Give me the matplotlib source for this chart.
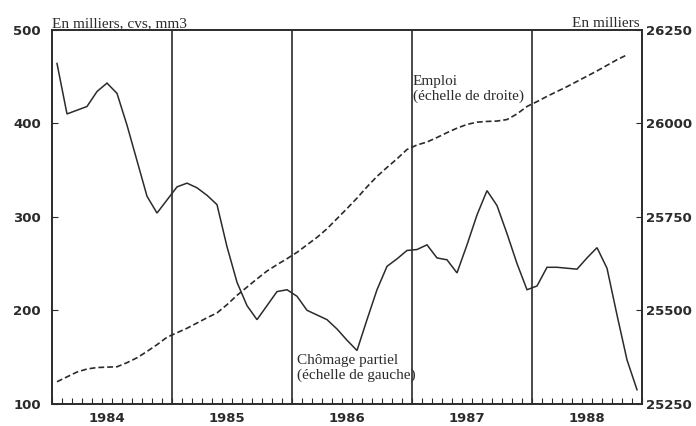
import matplotlib
matplotlib.use("Agg")
import matplotlib.pyplot as plt
import numpy as np

# Chômage partiel (left scale, thousands), monthly Jan 1984 ->
chomage = [464, 410, 414, 418, 434, 443, 432, 398, 360, 322, 304, 318,
           332, 336, 331, 323, 313, 268, 230, 205, 190, 205, 220, 222,
           215, 200, 195, 190, 180, 168, 157, 190, 222, 247, 255, 264,
           265, 270, 256, 254, 240, 270, 302, 328, 312, 282, 250, 222,
           226, 246, 246, 245, 244, 256, 267, 245, 195, 147, 115]

# Emploi (right scale, thousands), monthly Jan 1984 ->
emploi = [25309, 25322, 25335, 25343, 25347, 25348, 25349, 25360, 25373, 25390, 25408, 25428,
          25440, 25452, 25466, 25480, 25493, 25515, 25540, 25562, 25584, 25605, 25622, 25638,
          25655, 25675, 25695, 25718, 25745, 25772, 25800, 25830, 25858, 25882, 25905, 25930,
          25942, 25950, 25962, 25975, 25987, 25997, 26003, 26005, 26006, 26010, 26025, 26045,
          26058, 26072, 26085, 26098, 26112, 26126, 26140, 26155, 26170, 26183]

years = ["1984", "1985", "1986", "1987", "1988"]
left_ticks = [100, 200, 300, 400, 500]
right_ticks = [25250, 25500, 25750, 26000, 26250]

ink = "#2b2b2b"
serif = ["Liberation Serif", "DejaVu Serif"]

fig = plt.figure(figsize=(6.96, 4.26), dpi=100)
ax = fig.add_axes([52/696, 1-403.8/426, (642-52)/696, (403.8-29.8)/426])
ax2 = ax.twinx()

x_ch = np.arange(len(chomage)) + 0.5
x_em = np.arange(len(emploi)) + 0.5

ax.plot(x_ch, chomage, color=ink, lw=1.1, solid_joinstyle="miter")
ax2.plot(x_em, emploi, color=ink, lw=1.2, dashes=(3.5, 1.8))

nmonths = 12 * len(years) - 1
ax.set_xlim(0, nmonths)
ax.set_ylim(100, 500)
ax2.set_ylim(25250, 26250)

for k in range(1, len(years)):
    ax.axvline(12 * k, color=ink, lw=1.2)

ax.set_xticks([12 * k + 5.5 for k in range(len(years))])
ax.set_xticklabels(years)
ax.set_xticks(np.arange(0, nmonths + 1), minor=True)
ax.tick_params(axis="x", which="major", length=0, pad=6, labelsize=9.5, colors=ink)
ax.tick_params(axis="x", which="minor", direction="in", length=4, width=0.8, color=ink)

ax.set_yticks(left_ticks)
ax.tick_params(axis="y", direction="in", length=4, width=0.8, pad=8, labelsize=9.5, colors=ink)
ax2.set_yticks(right_ticks)
ax2.tick_params(axis="y", direction="in", length=4, width=0.8, pad=3, labelsize=9.5, colors=ink)

for a in (ax, ax2):
    for s in a.spines.values():
        s.set_color(ink)
        s.set_linewidth(1.2)

for lbl in ax.get_xticklabels() + ax.get_yticklabels() + ax2.get_yticklabels():
    lbl.set_fontweight("bold")

fig.text(52/696, 1-27/426, "En milliers, cvs, mm3", family=serif, fontsize=11,
         color=ink, ha="left", va="baseline")
fig.text(640/696, 1-27/426, "En milliers", family=serif, fontsize=11,
         color=ink, ha="right", va="baseline")

ax2.text(36.1, 26130, "Emploi\n(échelle de droite)", family=serif, fontsize=11,
         color=ink, ha="left", va="top", linespacing=1.15)
ax.text(24.5, 153, "Chômage partiel\n(échelle de gauche)", family=serif, fontsize=11,
        color=ink, ha="left", va="top", linespacing=1.15)

fig.savefig("out.png", dpi=100)
